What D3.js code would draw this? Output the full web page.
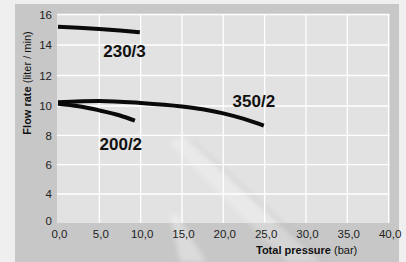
<!DOCTYPE html>
<html>
<head>
<meta charset="utf-8">
<script src="https://cdn.jsdelivr.net/npm/d3@7/dist/d3.min.js"></script>
<style>
  html, body { margin: 0; padding: 0; background: #efefef; }
  svg { display: block; }
  text { font-family: "Liberation Sans", Arial, Helvetica, sans-serif; }
</style>
</head>
<body>
<svg id="chart" width="406" height="262"></svg>
<script>
// ---- data ----
const seriesNames = ["230/3", "350/2", "200/2"];
const s230_3 = [[0, 15.2], [2.5, 15.13], [5, 15.05], [7.5, 14.95], [9.9, 14.83]];
const s350_2 = [[0, 10.25], [5, 10.33], [10, 10.2], [15, 9.97], [17.5, 9.78], [20, 9.5], [22.5, 9.12], [24.9, 8.66]];
const s200_2 = [[0, 10.15], [2.5, 9.98], [5, 9.7], [7.5, 9.35], [9.3, 9.0]];
const seriesValues = [s230_3, s350_2, s200_2];
const labelAnchors = [[8.05, 13.23], [23.7, 9.95], [7.6, 7.0]];
const xTicks = [0, 5, 10, 15, 20, 25, 30, 35, 40];
const yTicks = [0, 4, 6, 8, 10, 12, 14, 16];

// ---- layout ----
const svg = d3.select("#chart");
const x = d3.scaleLinear().domain([0, 40]).range([58, 388.6]);
// broken axis: 0 placed directly below 4 (no 2 line)
const y = d3.scaleLinear().domain([0, 4, 10, 16]).range([223, 194, 106, 14.5]);
const comma = d3.formatLocale({decimal: ",", thousands: ".", grouping: [3], currency: ["", ""]}).format(".1f");

const defs = svg.append("defs");
defs.append("filter").attr("id", "soft").attr("x", "-20%").attr("y", "-20%").attr("width", "140%").attr("height", "140%")
  .append("feGaussianBlur").attr("stdDeviation", 2.5);

// panel
svg.append("rect").attr("x", 15).attr("y", 4).attr("width", 384).attr("height", 258).attr("fill", "#c7c7c7");
// plot area
svg.append("rect").attr("x", 57).attr("y", 14).attr("width", 332.5).attr("height", 209).attr("fill", "#e2e2e2");

// faint reflections
const refl = svg.append("g").attr("filter", "url(#soft)");
refl.append("path").attr("d", "M168,142 L184,136 L322,262 L288,262 Z").attr("fill", "#ffffff").attr("opacity", 0.25);
refl.append("path").attr("d", "M186,138 L196,142 L328,262 L318,262 Z").attr("fill", "#a0a0a0").attr("opacity", 0.18);
refl.append("path").attr("d", "M170,214 L178,216 L206,262 L180,262 Z").attr("fill", "#ffffff").attr("opacity", 0.35);

// gridlines
const grid = svg.append("g").attr("stroke", "#ffffff").attr("stroke-width", 1.3);
grid.selectAll("line.h").data(yTicks.filter(d => d > 0)).join("line")
  .attr("x1", 57).attr("x2", 389.5).attr("y1", d => y(d)).attr("y2", d => y(d));
grid.selectAll("line.v").data(xTicks.filter(d => d > 0)).join("line")
  .attr("x1", d => x(d)).attr("x2", d => x(d)).attr("y1", 14).attr("y2", 223);

// axes (text only)
const xAxis = d3.axisBottom(x).tickValues(xTicks).tickFormat(comma).tickSize(0).tickPadding(0);
const gx = svg.append("g").attr("transform", "translate(1,0)").call(xAxis);
gx.select(".domain").remove();
gx.selectAll("text").attr("y", 238).attr("dy", null).attr("font-size", 11.5).attr("fill", "#222")
  .attr("font-family", "Liberation Sans, Arial, sans-serif");

const yAxis = d3.axisLeft(y).tickValues(yTicks).tickFormat(d3.format("d")).tickSize(0).tickPadding(0);
const gy = svg.append("g").attr("transform", "translate(52,0)").call(yAxis);
gy.select(".domain").remove();
gy.selectAll("text").attr("x", 0).attr("font-size", 11.5).attr("fill", "#222")
  .attr("font-family", "Liberation Sans, Arial, sans-serif");
gy.selectAll(".tick").filter(d => d === 0).attr("transform", "translate(0,221)");

// curves
const line = d3.line().x(d => x(d[0])).y(d => y(d[1])).curve(d3.curveMonotoneX);
svg.append("g").selectAll("path").data(seriesValues).join("path")
  .attr("d", line).attr("fill", "none").attr("stroke", "#0a0a0a")
  .attr("stroke-width", 4).attr("stroke-linecap", "butt");

// series labels
svg.append("g").selectAll("text").data(seriesNames).join("text")
  .attr("x", (d, i) => x(labelAnchors[i][0])).attr("y", (d, i) => y(labelAnchors[i][1]))
  .attr("text-anchor", "middle").attr("font-size", 17).attr("font-weight", "bold")
  .attr("fill", "#111").text(d => d);

// axis titles
const xt = svg.append("text").attr("x", 256).attr("y", 254).attr("font-size", 11).attr("fill", "#111");
xt.append("tspan").attr("font-weight", "bold").text("Total pressure");
xt.append("tspan").text(" (bar)");

const yt = svg.append("text").attr("transform", "translate(31,83) rotate(-90)")
  .attr("text-anchor", "middle").attr("font-size", 11).attr("fill", "#111");
yt.append("tspan").attr("font-weight", "bold").text("Flow rate");
yt.append("tspan").text(" (liter / min)");
</script>
</body>
</html>
